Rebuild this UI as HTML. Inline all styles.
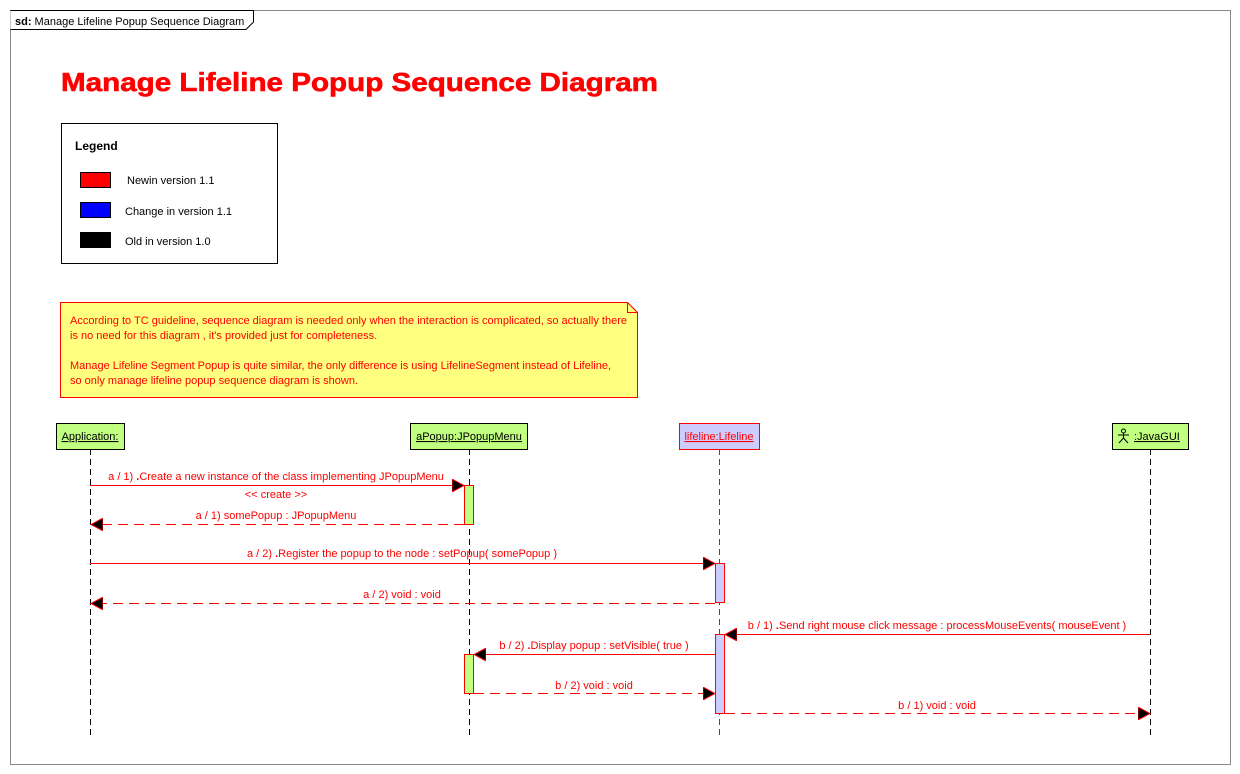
<!DOCTYPE html>
<html><head><meta charset="utf-8"><style>
html,body{margin:0;padding:0;background:#fff;}
svg{display:block;font-family:"Liberation Sans",Arial,sans-serif;}
</style></head><body>
<svg width="1240" height="774" viewBox="0 0 1240 774" xmlns="http://www.w3.org/2000/svg">
<defs>
<marker id="ah" markerWidth="13" markerHeight="13" refX="12" refY="6.5" orient="auto" markerUnits="userSpaceOnUse">
<path d="M0,0 L12,6.5 L0,13 Z" fill="#000" stroke="#f00" stroke-width="1"/>
</marker>
</defs>
<rect x="10.5" y="10.5" width="1220" height="754" fill="#fff" stroke="#888"/>
<path d="M10.5,10.5 H253.5 V22 L246,29.5 H10.5" fill="#fff" stroke="#000"/>
<text x="15" y="25" font-size="11"><tspan font-weight="bold">sd:</tspan> Manage Lifeline Popup Sequence Diagram</text>

<text x="61" y="91" font-size="26" font-weight="bold" fill="#f00" textLength="597" lengthAdjust="spacingAndGlyphs" stroke="#f00" stroke-width="0.6">Manage Lifeline Popup Sequence Diagram</text>

<rect x="61.5" y="123.5" width="216" height="140" fill="#fff" stroke="#000"/>
<text x="75" y="150" font-size="12" font-weight="bold">Legend</text>
<rect x="80.5" y="172.5" width="30" height="15" fill="#f00" stroke="#000"/>
<rect x="80.5" y="202.5" width="30" height="15" fill="#00f" stroke="#000"/>
<rect x="80.5" y="232.5" width="30" height="15" fill="#000" stroke="#000"/>
<text x="127" y="184" font-size="11">Newin version 1.1</text>
<text x="125" y="215" font-size="11">Change in version 1.1</text>
<text x="125" y="245" font-size="11">Old in version 1.0</text>

<path d="M60.5,302.5 H627.5 L637.5,312.5 V397.5 H60.5 Z" fill="#ffff80" stroke="#f00"/>
<path d="M627.5,302.5 V312.5 H637.5" fill="none" stroke="#f00"/>
<g font-size="11" fill="#f00">
<text x="70" y="324" textLength="557" lengthAdjust="spacingAndGlyphs">According to TC guideline, sequence diagram is needed only when the interaction is complicated, so actually there</text>
<text x="70" y="339">is no need for this diagram , it's provided just for completeness.</text>
<text x="70" y="369" textLength="541" lengthAdjust="spacingAndGlyphs">Manage Lifeline Segment Popup is quite similar, the only difference is using LifelineSegment instead of Lifeline,</text>
<text x="70" y="384">so only manage lifeline popup sequence diagram is shown.</text>
</g>

<g stroke-dasharray="6,4">
<line x1="90.5" y1="449" x2="90.5" y2="735" stroke="#000"/>
<line x1="469.5" y1="449" x2="469.5" y2="735" stroke="#000"/>
<line x1="719.5" y1="449" x2="719.5" y2="735" stroke="#f00"/>
<line x1="1150.5" y1="449" x2="1150.5" y2="735" stroke="#000"/>
</g>
<rect x="56.5" y="423.5" width="68" height="26" fill="#c0ff80" stroke="#000"/>
<text x="90" y="440" font-size="11" text-anchor="middle" text-decoration="underline">Application:</text>
<rect x="410.5" y="423.5" width="117" height="26" fill="#c0ff80" stroke="#000"/>
<text x="469" y="440" font-size="11" text-anchor="middle" text-decoration="underline">aPopup:JPopupMenu</text>
<rect x="679.5" y="423.5" width="80" height="26" fill="#ccccff" stroke="#f00"/>
<text x="719" y="440" font-size="11" text-anchor="middle" fill="#f00" text-decoration="underline">lifeline:Lifeline</text>
<rect x="1112.5" y="423.5" width="76" height="26" fill="#c0ff80" stroke="#000"/>
<g stroke="#000" fill="none"><circle cx="1123.5" cy="431" r="2"/><line x1="1123.5" y1="433" x2="1123.5" y2="438"/><line x1="1118" y1="435" x2="1129" y2="435"/><line x1="1123.5" y1="438" x2="1119" y2="443"/><line x1="1123.5" y1="438" x2="1128" y2="443"/></g>
<text x="1134" y="440" font-size="11" text-decoration="underline">:JavaGUI</text>

<rect x="464.5" y="485.5" width="9" height="39" fill="#c0ff80" stroke="#f00"/>
<rect x="715.5" y="563.5" width="9" height="39" fill="#ccccff" stroke="#f00"/>
<rect x="715.5" y="634.5" width="9" height="79" fill="#ccccff" stroke="#f00"/>
<rect x="464.5" y="654.5" width="9" height="39" fill="#c0ff80" stroke="#f00"/>

<g stroke="#f00" fill="none" marker-end="url(#ah)">
<line x1="90" y1="485.5" x2="464" y2="485.5"/>
<line x1="464" y1="524.5" x2="91" y2="524.5" stroke-dasharray="10,6"/>
<line x1="90" y1="563.5" x2="715" y2="563.5"/>
<line x1="715" y1="603.5" x2="91" y2="603.5" stroke-dasharray="10,6"/>
<line x1="1150" y1="634.5" x2="725" y2="634.5"/>
<line x1="715" y1="654.5" x2="474" y2="654.5"/>
<line x1="474" y1="693.5" x2="715" y2="693.5" stroke-dasharray="10,6"/>
<line x1="725" y1="713.5" x2="1150" y2="713.5" stroke-dasharray="10,6"/>
</g>
<g font-size="11" fill="#f00" text-anchor="middle">
<text x="276" y="480">a / 1) <tspan font-weight="bold">.</tspan>Create a new instance of the class implementing JPopupMenu</text>
<text x="276" y="498">&lt;&lt; create &gt;&gt;</text>
<text x="276" y="519">a / 1) somePopup : JPopupMenu</text>
<text x="402" y="557">a / 2) <tspan font-weight="bold">.</tspan>Register the popup to the node : setPopup( somePopup )</text>
<text x="402" y="598">a / 2) void : void</text>
<text x="937" y="629">b / 1) <tspan font-weight="bold">.</tspan>Send right mouse click message : processMouseEvents( mouseEvent )</text>
<text x="594" y="649">b / 2) <tspan font-weight="bold">.</tspan>Display popup : setVisible( true )</text>
<text x="594" y="689">b / 2) void : void</text>
<text x="937" y="709">b / 1) void : void</text>
</g>
</svg>
</body></html>
